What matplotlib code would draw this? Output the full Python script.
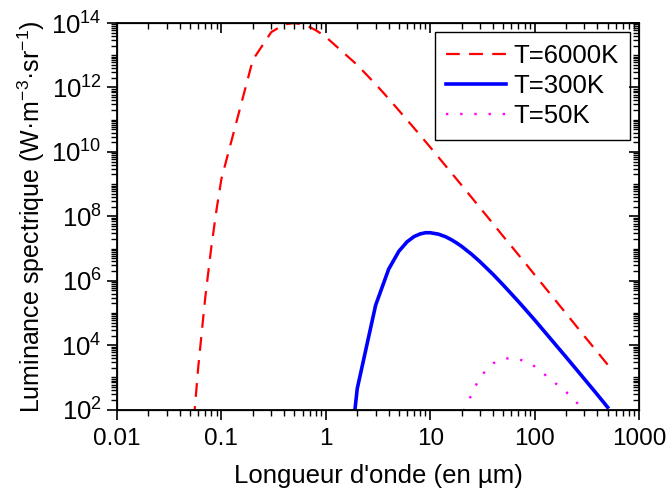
import numpy as np
import matplotlib
matplotlib.use('Agg')
import matplotlib.pyplot as plt
from matplotlib.ticker import LogLocator, NullFormatter

plt.rcParams['font.family'] = ['Liberation Sans', 'DejaVu Sans']
plt.rcParams['mathtext.fontset'] = 'custom'
plt.rcParams['mathtext.rm'] = 'Liberation Sans'
plt.rcParams['mathtext.it'] = 'Liberation Sans:italic'
plt.rcParams['mathtext.default'] = 'regular'

# values (wavelength in um, luminance in W.m-3.sr-1)
wl_6000 = [0.05, 0.06, 0.07, 0.08, 0.09, 0.1, 0.2, 0.3, 0.4, 0.5, 0.6, 0.7, 0.8, 0.9,
           1, 2, 3, 4, 5, 6, 7, 8, 9, 10, 20, 30, 40, 50, 60, 70, 80, 90, 100,
           200, 300, 400, 500]
lum_6000 = [1.8, 2.1e3, 3.0e5, 1.1e7, 1.7e8, 1.45e9, 7.2e12, 5.2e13, 9.1e13, 1.0e14,
            9.0e13, 7.5e13, 6.0e13, 4.7e13, 3.7e13, 5.0e12, 1.26e12, 4.5e11, 1.95e11,
            9.8e10, 5.5e10, 3.3e10, 2.1e10, 1.4e10, 9.2e8, 1.85e8, 5.9e7, 2.4e7,
            1.18e7, 6.4e6, 3.8e6, 2.35e6, 1.54e6, 9.7e4, 1.9e4, 6.1e3, 2.5e3]

wl_300 = [1, 2, 3, 4, 5, 6, 7, 8, 9, 10, 12, 14, 16, 18, 20, 25, 30, 40, 50, 60, 70,
          80, 90, 100, 200, 300, 400, 500]
lum_300 = [5.5e-7, 4.5e2, 1.75e5, 2.3e6, 8.2e6, 1.62e7, 2.36e7, 2.85e7, 3.1e7, 3.1e7,
           2.8e7, 2.34e7, 1.87e7, 1.48e7, 1.17e7, 6.6e6, 3.9e6, 1.58e6, 7.4e5, 3.9e5,
           2.26e5, 1.39e5, 9.0e4, 6.1e4, 4.3e3, 8.9e2, 2.9e2, 1.19e2]

wl_50 = [10, 20, 30, 40, 50, 60, 70, 80, 90, 100, 200, 300, 400, 500]
lum_50 = [1.2e-3, 66, 1.05e3, 2.75e3, 3.8e3, 4.0e3, 3.7e3, 3.2e3, 2.7e3, 2.2e3,
          3.6e2, 95, 35, 15]

x_ticks = [0.01, 0.1, 1, 10, 100, 1000]
x_labels = ['0.01', '0.1', '1', '10', '100', '1000']
y_ticks = [1e2, 1e4, 1e6, 1e8, 1e10, 1e12, 1e14]
y_labels = ['$10^{2}$', '$10^{4}$', '$10^{6}$', '$10^{8}$', '$10^{10}$', '$10^{12}$', '$10^{14}$']

fig = plt.figure(figsize=(6.69, 4.93), dpi=100)
ax = fig.add_axes([0.1749, 0.169, 0.7803, 0.7843])

ax.plot(wl_6000, lum_6000, color='red', lw=1.6, ls=(0, (6.2, 4.2)), label='T=6000K')
ax.plot(wl_300, lum_300, color='blue', lw=2.6, label='T=300K')
ax.plot(wl_50, lum_50, color='magenta', lw=1.7, ls=(0, (1, 5)), label='T=50K')

ax.set_xscale('log')
ax.set_yscale('log')
ax.set_xlim(0.01, 1000)
ax.set_ylim(1e2, 1e14)

ax.set_xticks(x_ticks, x_labels)
ax.set_yticks(y_ticks, y_labels)
ax.xaxis.set_minor_locator(LogLocator(base=10, subs=np.arange(2, 10), numticks=50))
ax.yaxis.set_minor_locator(LogLocator(base=10, subs=np.arange(1, 10), numticks=50))
ax.xaxis.set_minor_formatter(NullFormatter())
ax.yaxis.set_minor_formatter(NullFormatter())
ax.tick_params(which='major', direction='out', length=7, width=1.2, pad=4)
ax.tick_params(which='minor', direction='out', length=4, width=1)
ax.tick_params(axis='x', which='major', labelsize=17.5, pad=6)
ax.tick_params(axis='y', which='major', labelsize=18.5)
for s in ax.spines.values():
    s.set_linewidth(1.3)

ax.set_xlabel("Longueur d'onde (en µm)", fontsize=18.5, labelpad=10)
ax.set_ylabel('Luminance spectrique (W·m$^{-3}$·sr$^{-1}$)', fontsize=18, labelpad=3)

# top and right ticks point inward
ax_top = ax.twiny()
ax_top.set_xscale('log')
ax_top.set_xlim(ax.get_xlim())
ax_top.set_xticks(x_ticks)
ax_top.xaxis.set_minor_locator(LogLocator(base=10, subs=np.arange(2, 10), numticks=50))
ax_top.tick_params(which='both', direction='in', labeltop=False, width=1)
ax_top.tick_params(which='major', length=7, width=1.2)
ax_top.tick_params(which='minor', length=4)

ax_right = ax.twinx()
ax_right.set_yscale('log')
ax_right.set_ylim(ax.get_ylim())
ax_right.set_yticks(y_ticks)
ax_right.yaxis.set_minor_locator(LogLocator(base=10, subs=np.arange(1, 10), numticks=50))
ax_right.tick_params(which='both', direction='in', labelright=False, width=1)
ax_right.tick_params(which='major', length=7, width=1.2)
ax_right.tick_params(which='minor', length=4)

leg = ax.legend(loc='upper right', fontsize=18.5, frameon=True, fancybox=False,
                edgecolor='black', framealpha=1, borderaxespad=0.35,
                handlelength=2.3, handletextpad=0.3, labelspacing=0.25, borderpad=0.45)
leg.get_frame().set_linewidth(1.0)
leg.set_zorder(10)

fig.savefig('out.png', dpi=100)
